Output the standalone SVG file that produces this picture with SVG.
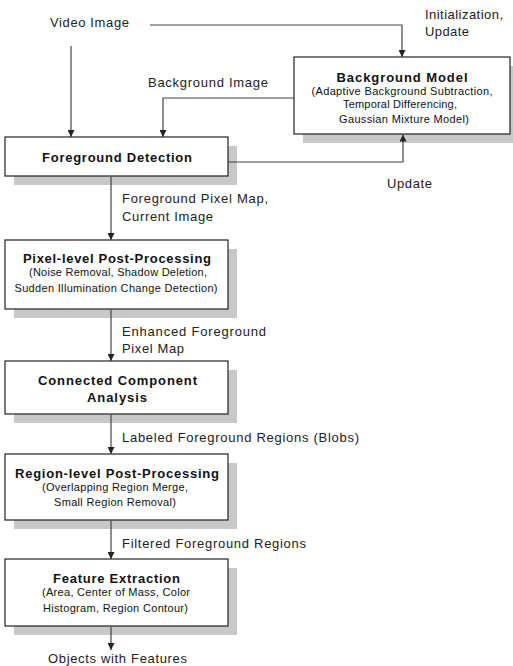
<svg xmlns="http://www.w3.org/2000/svg" width="513" height="666" viewBox="0 0 513 666">
<defs>
<marker id="ah" viewBox="0 0 10 10" refX="10" refY="5" markerWidth="7" markerHeight="7" markerUnits="userSpaceOnUse" orient="auto">
<path d="M0,0 L10,5 L0,10 z" fill="#222"/>
</marker>
</defs>
<style>
.box{fill:#fff;stroke:#222;stroke-width:1.2}
.sh{fill:#c8c8c8}
.t{font-family:"Liberation Sans",Arial,sans-serif;font-size:13px;font-weight:bold;fill:#111;text-anchor:middle}
.s{font-family:"Liberation Sans",Arial,sans-serif;font-size:11px;fill:#111;text-anchor:middle}
.l{font-family:"Liberation Sans",Arial,sans-serif;font-size:13px;fill:#222}
.c{fill:none;stroke:#444;stroke-width:1.2;marker-end:url(#ah)}
</style>
<rect width="513" height="666" fill="#fff"/>
<g id="labels">
<text class="l" x="50" y="27" textLength="79" lengthAdjust="spacing">Video Image</text>
<text class="l" x="425" y="19" textLength="78" lengthAdjust="spacing">Initialization,</text>
<text class="l" x="425" y="36" textLength="44" lengthAdjust="spacing">Update</text>
<text class="l" x="148" y="87" textLength="120" lengthAdjust="spacing">Background Image</text>
<text class="l" x="387" y="188" textLength="45" lengthAdjust="spacing">Update</text>
<text class="l" x="122" y="202.5" textLength="146" lengthAdjust="spacing">Foreground Pixel Map,</text>
<text class="l" x="122" y="220.5" textLength="91" lengthAdjust="spacing">Current Image</text>
<text class="l" x="122" y="335.5" textLength="144" lengthAdjust="spacing">Enhanced Foreground</text>
<text class="l" x="122" y="352.5" textLength="62" lengthAdjust="spacing">Pixel Map</text>
<text class="l" x="122" y="441.5" textLength="237" lengthAdjust="spacing">Labeled Foreground Regions (Blobs)</text>
<text class="l" x="122" y="547.5" textLength="184" lengthAdjust="spacing">Filtered Foreground Regions</text>
<text class="l" x="48" y="662.5" textLength="139" lengthAdjust="spacing">Objects with Features</text>
</g>
<g id="background-model">
<rect class="sh" x="303" y="66" width="210" height="77"/>
<rect class="box" x="294" y="57" width="216" height="77"/>
<text class="t" x="402" y="81.5" textLength="131" lengthAdjust="spacing">Background Model</text>
<text class="s" x="402" y="95" textLength="181" lengthAdjust="spacing">(Adaptive Background Subtraction,</text>
<text class="s" x="400" y="108" textLength="114" lengthAdjust="spacing">Temporal Differencing,</text>
<text class="s" x="404" y="123" textLength="130" lengthAdjust="spacing">Gaussian Mixture Model)</text>
</g>
<g id="foreground-detection">
<rect class="sh" x="14" y="146" width="223" height="39"/>
<rect class="box" x="5" y="137" width="223" height="39"/>
<text class="t" x="117" y="161.5" textLength="150" lengthAdjust="spacing">Foreground Detection</text>
</g>
<g id="pixel-level">
<rect class="sh" x="14" y="249" width="223" height="69"/>
<rect class="box" x="5" y="240" width="223" height="69"/>
<text class="t" x="117" y="262.5" textLength="188" lengthAdjust="spacing">Pixel-level Post-Processing</text>
<text class="s" x="118" y="276" textLength="178" lengthAdjust="spacing">(Noise Removal, Shadow Deletion,</text>
<text class="s" x="116" y="292" textLength="203" lengthAdjust="spacing">Sudden Illumination Change Detection)</text>
</g>
<g id="connected-component">
<rect class="sh" x="14" y="370" width="223" height="53"/>
<rect class="box" x="5" y="361" width="223" height="53"/>
<text class="t" x="117.5" y="384.5" textLength="159" lengthAdjust="spacing">Connected Component</text>
<text class="t" x="117" y="401.5" textLength="60" lengthAdjust="spacing">Analysis</text>
</g>
<g id="region-level">
<rect class="sh" x="14" y="463" width="223" height="66"/>
<rect class="box" x="5" y="454" width="223" height="66"/>
<text class="t" x="117" y="477.5" textLength="204" lengthAdjust="spacing">Region-level Post-Processing</text>
<text class="s" x="115" y="491" textLength="146" lengthAdjust="spacing">(Overlapping Region Merge,</text>
<text class="s" x="115" y="506" textLength="122" lengthAdjust="spacing">Small Region Removal)</text>
</g>
<g id="feature-extraction">
<rect class="sh" x="14" y="568" width="223" height="67"/>
<rect class="box" x="5" y="559" width="223" height="67"/>
<text class="t" x="116.5" y="582.5" textLength="127" lengthAdjust="spacing">Feature Extraction</text>
<text class="s" x="116" y="596" textLength="148" lengthAdjust="spacing">(Area, Center of Mass, Color</text>
<text class="s" x="115.5" y="612" textLength="145" lengthAdjust="spacing">Histogram, Region Contour)</text>
</g>
<g id="connectors">
<path class="c" d="M71,46 V137"/>
<path class="c" d="M150,25 H402 V57"/>
<path class="c" d="M294,98 H163 V137"/>
<path class="c" d="M228,162 H403 V134.6"/>
<path class="c" d="M111,176.6 V240"/>
<path class="c" d="M111,309.6 V361"/>
<path class="c" d="M111,414.6 V454"/>
<path class="c" d="M111,520.6 V559"/>
<path class="c" d="M111,626.6 V650"/>
</g>
</svg>
